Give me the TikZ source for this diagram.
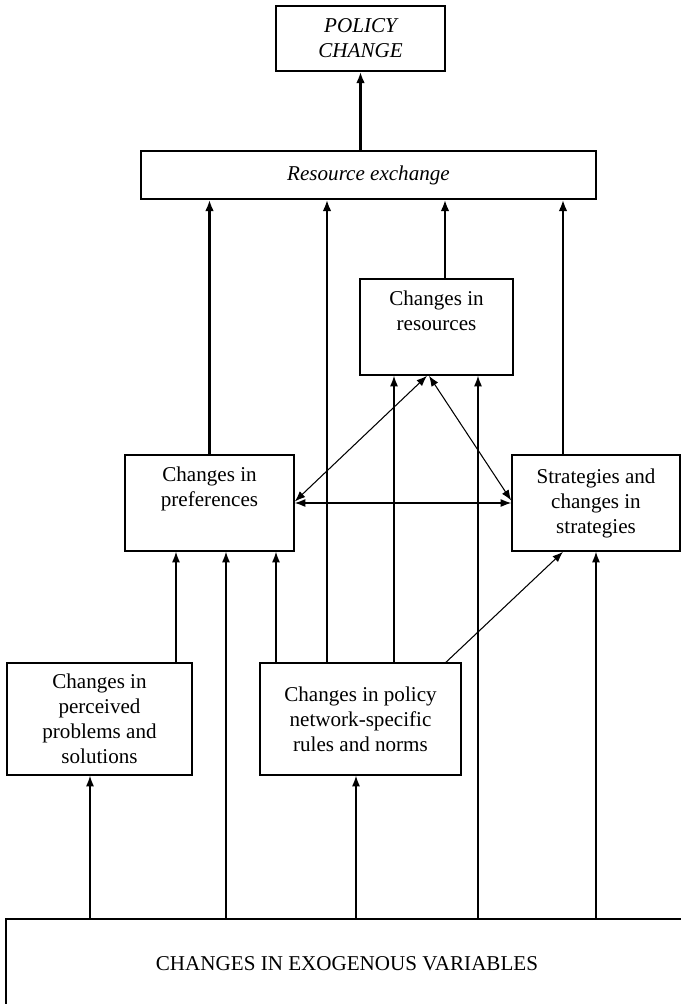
\documentclass[tikz,border=0pt]{standalone}
\usepackage{fontspec}
\setmainfont{Liberation Serif}
\usetikzlibrary{arrows.meta,positioning,calc}
\tikzset{
  box/.style={draw, line width=0.9pt, align=center, inner sep=0pt, font=\fontsize{12}{14.2}\selectfont},
  itbox/.style={box, font=\fontsize{12}{14.2}\selectfont\itshape},
  arr_n/.style={line width=0.6pt, -{Latex[length=6pt,width=4.5pt]}},
  arr_t/.style={line width=1.5pt, -{Latex[length=6.5pt,width=5pt]}},
  arr_b/.style={line width=0.6pt, {Latex[length=6pt,width=4.5pt]}-{Latex[length=6pt,width=4.5pt]}}
}
\begin{document}
\begin{tikzpicture}[x=0.2mm,y=-0.2mm]
\useasboundingbox (0,0) rectangle (681,1004);
\clip (0,0) rectangle (681,1004);

\node[itbox, minimum width=33.8mm, minimum height=13mm] (policy) at (360.5,38.5) {POLICY\\CHANGE};
\node[itbox, minimum width=91mm, minimum height=9.6mm] (exch) at (368.5,175) {Resource exchange};
\node[box, minimum width=30.6mm, minimum height=19.2mm] (res) at (436.5,327) {Changes in\\resources\\\strut};
\node[box, minimum width=33.8mm, minimum height=19.2mm] (pref) at (209.5,503) {Changes in\\preferences\\\strut};
\node[box, minimum width=33.6mm, minimum height=19.2mm] (strat) at (596,503) {Strategies and\\changes in\\strategies};
\node[box, minimum width=37mm, minimum height=22.4mm] (perc) at (99.5,719) {Changes in\\perceived\\problems and\\solutions};
\node[box, minimum width=40.2mm, minimum height=22.4mm] (rules) at (360.5,719) {Changes in policy\\network-specific\\rules and norms};
\node[box, minimum width=136.4mm, minimum height=18mm] (exo) at (347,964) {CHANGES IN EXOGENOUS VARIABLES};

\coordinate (a_rul) at (327,0);
\coordinate (a_res) at (445,0);
\coordinate (a_str) at (563,0);
\coordinate (b_rul) at (394,0);
\coordinate (b_exo) at (478,0);
\coordinate (c_per) at (176,0);
\coordinate (c_exo) at (226,0);
\coordinate (c_rul) at (276,0);
\coordinate (d_per) at (90,0);
\coordinate (d_rul) at (356,0);
\coordinate (e_rul) at (446,0);
\coordinate (e_str) at (563,0);

\draw[arr_t] (policy.south |- exch.north) -- (policy.south);
\draw[arr_t] (pref.north) -- (pref.north |- exch.south);
\draw[arr_t] (rules.north -| a_rul) -- (exch.south -| a_rul);
\draw[arr_t] (res.north -| a_res) -- (exch.south -| a_res);
\draw[arr_t] (strat.north -| a_str) -- (exch.south -| a_str);

\draw[arr_n] (rules.north -| b_rul) -- (res.south -| b_rul);
\draw[arr_n] (exo.north -| b_exo) -- (res.south -| b_exo);
\draw[arr_n] (perc.north -| c_per) -- (pref.south -| c_per);
\draw[arr_n] (exo.north -| c_exo) -- (pref.south -| c_exo);
\draw[arr_n] (rules.north -| c_rul) -- (pref.south -| c_rul);
\draw[arr_n] (exo.north -| strat.south) -- (strat.south);
\draw[arr_n] (exo.north -| d_per) -- (perc.south -| d_per);
\draw[arr_n] (exo.north -| d_rul) -- (rules.south -| d_rul);
\draw[arr_n] (rules.north -| e_rul) -- (strat.south -| e_str);

\draw[arr_b] ([xshift=-1.9mm]res.south) -- ([yshift=0.3mm]pref.east);
\draw[arr_b] ([xshift=-1.5mm]res.south) -- ([yshift=0.5mm]strat.west);
\draw[arr_b] (pref.east) -- (strat.west);
\end{tikzpicture}
\end{document}
